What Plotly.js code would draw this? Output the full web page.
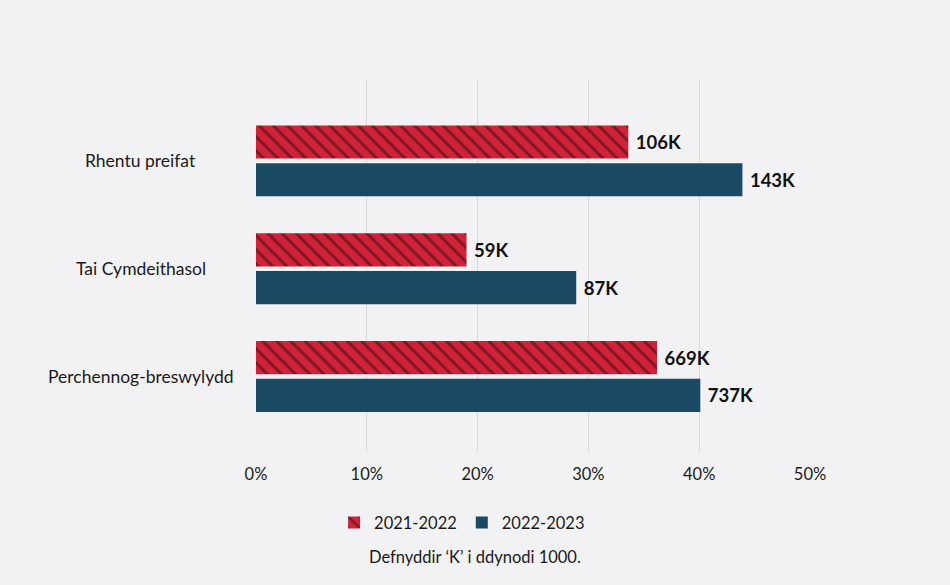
<!DOCTYPE html>
<html>
<head>
<meta charset="utf-8">
<script src="https://cdn.plot.ly/plotly-3.0.1.min.js"></script>
<style>
html,body{margin:0;padding:0;background:#f2f2f4;}
#chart{width:950px;height:585px;}
</style>
</head>
<body>
<div id="chart"></div>
<script>
const categories = ['Rhentu preifat', 'Tai Cymdeithasol', 'Perchennog-breswylydd'];
const seriesNames = ['2021-2022', '2022-2023'];
const share2021 = [0.336, 0.190, 0.362];
const share2022 = [0.439, 0.289, 0.401];
const labels2021 = ['106K', '59K', '669K'];
const labels2022 = ['143K', '87K', '737K'];
const tickVals = [0, 0.1, 0.2, 0.3, 0.4, 0.5];
const footnote = 'Defnyddir ‘K’ i ddynodi 1000.';

const FONT = 'Lato, "Noto Sans", sans-serif';
const RED = '#d2223a', RED_DARK = '#7e1822', BLUE = '#1a4a63';

const traces = [
  {
    type: 'bar', orientation: 'h', name: seriesNames[0],
    y: categories, x: share2021, text: labels2021,
    texttemplate: '\u00a0%{text}', textposition: 'outside', cliponaxis: false,
    textfont: {family: FONT, size: 18.5, color: '#111', weight: 'bold'},
    marker: {color: RED, line: {width: 0},
      pattern: {shape: '\\', fillmode: 'replace', bgcolor: RED, fgcolor: RED_DARK, size: 10, solidity: 0.3}},
    hoverinfo: 'skip'
  },
  {
    type: 'bar', orientation: 'h', name: seriesNames[1],
    y: categories, x: share2022, text: labels2022,
    texttemplate: '\u00a0%{text}', textposition: 'outside', cliponaxis: false,
    textfont: {family: FONT, size: 18.5, color: '#111', weight: 'bold'},
    marker: {color: BLUE, line: {width: 0}},
    hoverinfo: 'skip'
  }
];

const annotations = categories.map(c => ({
  xref: 'paper', yref: 'y', x: -0.2076, y: c, xanchor: 'center', yanchor: 'middle',
  text: c, showarrow: false, font: {family: FONT, size: 17.5, color: '#1a1a1a'}
}));
annotations.push({
  xref: 'paper', yref: 'paper', x: 0.395, y: -0.283, xanchor: 'center', yanchor: 'middle',
  text: footnote, showarrow: false, font: {family: FONT, size: 16.5, color: '#1a1a1a'}
});

const layout = {
  width: 950, height: 585,
  paper_bgcolor: '#f2f2f4', plot_bgcolor: '#f2f2f4',
  font: {family: FONT, color: '#1a1a1a'},
  margin: {l: 256, r: 140, t: 80, b: 133},
  barmode: 'group', bargap: 0.3, bargroupgap: 0.12,
  xaxis: {
    range: [0, 0.5], tickvals: tickVals, tickformat: '.0%',
    showgrid: true, gridcolor: '#d9d9dc', gridwidth: 1, zeroline: false,
    showline: false, ticks: '', ticklen: 0, ticklabelstandoff: 10,
    tickfont: {family: FONT, size: 16.5, color: '#1a1a1a'}
  },
  yaxis: {
    categoryorder: 'array', categoryarray: categories,
    range: [2.7, -0.75], showticklabels: false, showgrid: false,
    zeroline: false, showline: false, ticks: ''
  },
  showlegend: true,
  legend: {
    orientation: 'h', x: 0.372, xanchor: 'center', y: -0.19, yanchor: 'middle',
    font: {family: FONT, size: 16.5, color: '#1a1a1a'},
    bgcolor: 'rgba(0,0,0,0)', itemwidth: 30
  },
  annotations: annotations
};

Plotly.newPlot('chart', traces, layout, {displayModeBar: false, staticPlot: true});
</script>
</body>
</html>
